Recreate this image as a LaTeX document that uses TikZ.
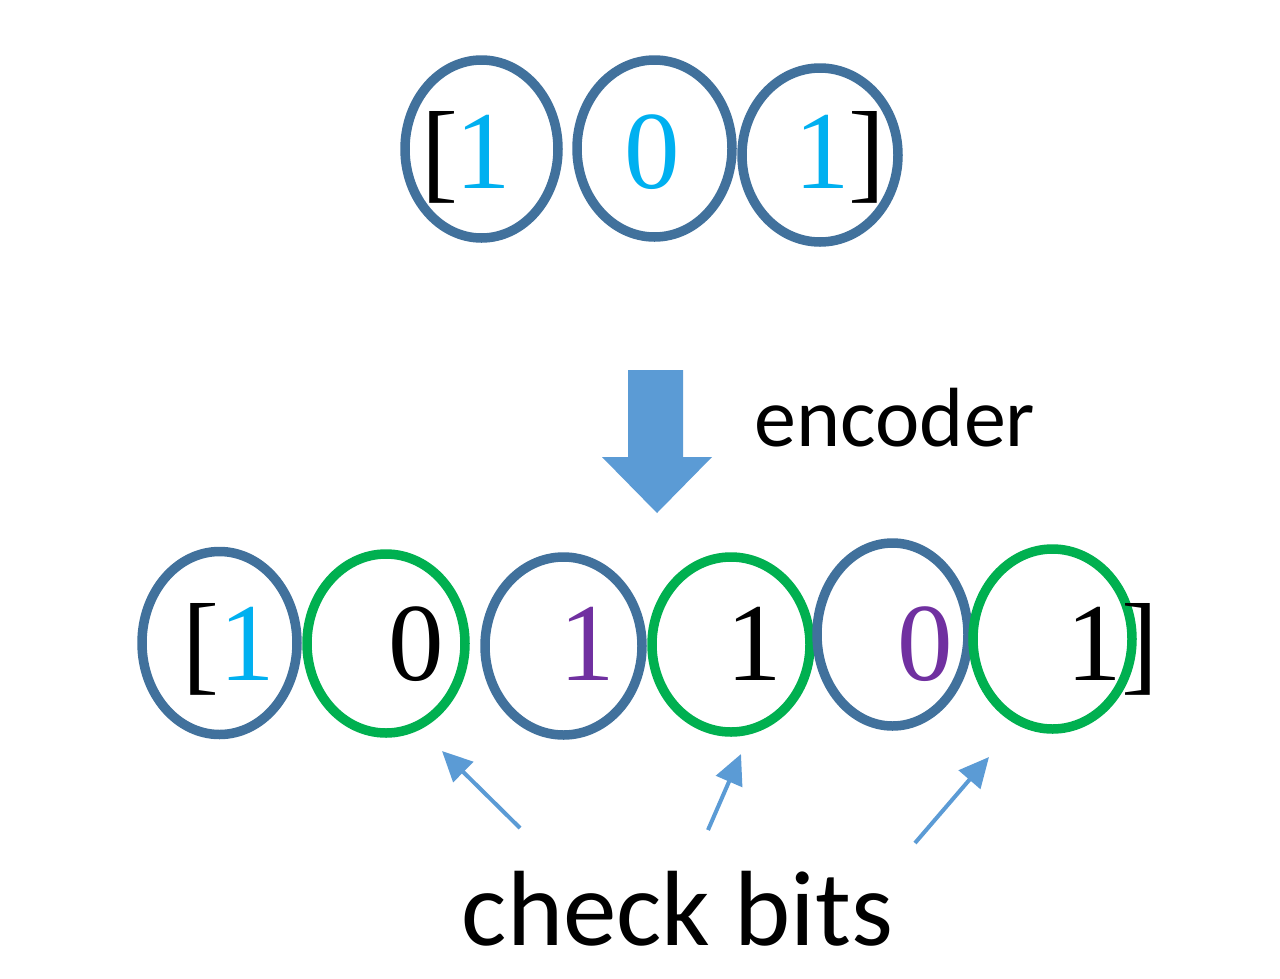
\documentclass[tikz,border=0pt]{standalone}
\usepackage{fontspec}
\setmainfont{Liberation Serif}
\newfontfamily\labelfont{Carlito}
\usetikzlibrary{shapes.geometric,arrows.meta}
\definecolor{ringblue}{HTML}{41719C}
\definecolor{ringgreen}{HTML}{00B050}
\definecolor{digitblue}{HTML}{00B0F0}
\definecolor{digitpurple}{HTML}{7030A0}
\definecolor{arrowblue}{HTML}{5B9BD5}
\tikzset{
  ring/.style={ellipse, draw, line width=9.5pt, inner sep=0pt, outer sep=0pt},
  bluering/.style={ring, draw=ringblue},
  greenring/.style={ring, draw=ringgreen},
  digit/.style={anchor=base, inner sep=0pt, font=\fontsize{111}{120}\selectfont},
  pointer/.style={draw=arrowblue, line width=4pt, -{Triangle[length=30pt,width=28pt]}},
  label/.style={anchor=base, inner sep=0pt, text=black},
}
\begin{document}
\begin{tikzpicture}[x=1pt,y=-1pt]
\useasboundingbox (0,0) rectangle (1280,978);
\fill[white] (0,0) rectangle (1280,978);

% top row rings
\node[bluering, minimum width=153pt, minimum height=178pt] (t1) at (481.5,149) {};
\node[bluering, minimum width=155pt, minimum height=177pt] (t2) at (654.5,148.5) {};
\node[bluering, minimum width=156pt, minimum height=174pt] (t3) at (820,155) {};
% top row text
\node[digit] (tlb) at (439.5,188) {[};
\node[digit, text=digitblue] (td1) at (483,188) {1};
\node[digit, text=digitblue] (td2) at (652,188) {0};
\node[digit, text=digitblue] (td3) at (822,188) {1};
\node[digit] (trb) at (867,188) {]};

% encoder block arrow
\fill[arrowblue] (628,370) -- (683,370) -- (683,457) -- (712,457) -- (657,513)
  -- (602,457) -- (628,457) -- cycle;
\node[label, font=\labelfont\fontsize{84}{96}\selectfont] (enc) at (895,446) {encoder};

% bottom row rings
\node[bluering, minimum width=155pt, minimum height=183pt] (b1) at (219.5,643) {};
\node[greenring, minimum width=158pt, minimum height=179pt] (b2) at (386,643.5) {};
\node[bluering, minimum width=157pt, minimum height=178pt] (b3) at (563.5,646) {};
\node[greenring, minimum width=158pt, minimum height=175pt] (b4) at (731,644.5) {};
\node[bluering, minimum width=151pt, minimum height=183pt] (b5) at (892.5,634.5) {};
\node[greenring, minimum width=159pt, minimum height=180pt] (b6) at (1052.5,639) {};
% bottom row text
\node[digit] (blb) at (201,680) {[};
\node[digit, text=digitblue] (bd1) at (247,680) {1};
\node[digit] (bd2) at (416,680) {0};
\node[digit, text=digitpurple] (bd3) at (587,680) {1};
\node[digit] (bd4) at (754,680) {1};
\node[digit, text=digitpurple] (bd5) at (925,680) {0};
\node[digit] (bd6) at (1094,680) {1};
\node[digit] (brb) at (1140,680) {]};

% check bit pointers
\coordinate (p1s) at (520,828);
\coordinate (p1e) at (442,751);
\coordinate (p2s) at (708,830);
\coordinate (p2e) at (741,754);
\coordinate (p3s) at (915,843);
\coordinate (p3e) at (989,757);
\draw[pointer] (p1s) -- (p1e);
\draw[pointer] (p2s) -- (p2e);
\draw[pointer] (p3s) -- (p3e);

\node[label, font=\labelfont\fontsize{107}{120}\selectfont] (cb) at (677.5,945) {check bits};
\end{tikzpicture}
\end{document}
